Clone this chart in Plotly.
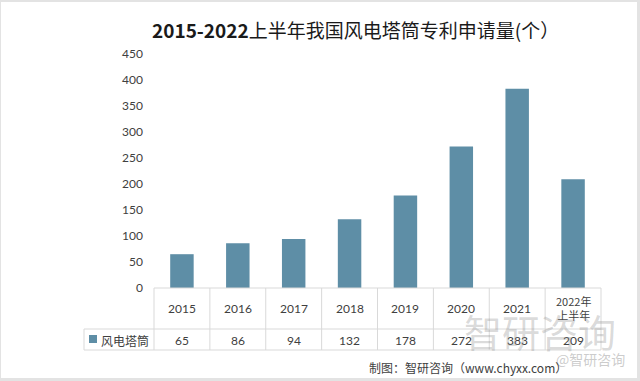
import plotly.graph_objects as go

categories = ["2015", "2016", "2017", "2018", "2019", "2020", "2021", "2022年<br>上半年"]
values = [65, 86, 94, 132, 178, 272, 383, 209]
series_name = "风电塔筒"
y_ticks = [0, 50, 100, 150, 200, 250, 300, 350, 400, 450]
title_num = "2015-2022"
title_cn = "上半年我国风电塔筒专利申请量(个）"
source = "制图：智研咨询（www.chyxx.com）"

W, H = 640, 381
L, R, T, B = 154, 601, 54, 288
BAR = "#5e8ea6"
GRID = "#d9d9d9"
CJK = "Noto Sans CJK SC"
NUM = "Lato, 'Noto Sans CJK SC'"


def px(X):
    return (X - L) / (R - L)


def py(Y):
    return (B - Y) / (B - T)


xs = list(range(len(categories)))
fig = go.Figure(go.Bar(x=xs, y=values, marker=dict(color=BAR, line=dict(width=0)),
                       width=0.42, hoverinfo="skip"))

shapes = []
# frame
shapes.append(dict(type="rect", xref="paper", yref="paper", x0=px(1), x1=px(637), y0=py(378), y1=py(2),
                   fillcolor="white", line=dict(width=0), layer="below"))


def hline(Y, X0, X1):
    shapes.append(dict(type="line", xref="paper", yref="paper", x0=px(X0), x1=px(X1), y0=py(Y), y1=py(Y),
                       line=dict(color=GRID, width=1)))


def vline(X, Y0, Y1):
    shapes.append(dict(type="line", xref="paper", yref="paper", x0=px(X), x1=px(X), y0=py(Y0), y1=py(Y1),
                       line=dict(color=GRID, width=1)))


hline(B, L, R)
hline(329, 84, R)
hline(350, 84, R)
vline(84, 329, 350)
for k in range(len(categories) + 1):
    vline(L + (R - L) / len(categories) * k, B, 350)
# legend key
shapes.append(dict(type="rect", xref="paper", yref="paper", x0=px(89), x1=px(97), y0=py(343), y1=py(335),
                   fillcolor=BAR, line=dict(width=0)))


def note(x, y, text, font, xref="paper", xanchor="center"):
    return dict(x=x, xref=xref, y=y, yref="paper", text=text, showarrow=False,
                xanchor=xanchor, yanchor="middle", align="center", font=font)


ann = []
for i, c in enumerate(categories):
    two = "<br>" in c
    ann.append(note(i, py(308), c, dict(family=CJK if two else NUM, size=11 if two else 12, color="#404040"),
                    xref="x"))
    ann.append(note(i, py(340), str(values[i]), dict(family=NUM, size=12, color="#404040"), xref="x"))
ann.append(note(px(99), py(340), series_name, dict(family=CJK, size=12, color="#404040"), xanchor="left"))
# title
ann.append(note(px(355), py(30), "<b>" + title_num + "</b>" + title_cn,
                dict(family=CJK, size=19, color="#1a1a1a")))
# watermarks
ann.append(note(px(540), py(330), "智研咨询", dict(family=CJK, size=38, color="rgba(140,140,140,0.33)")))
ann.append(note(px(590), py(359), "@智研咨询", dict(family=CJK, size=14, color="rgba(170,170,170,0.6)")))
# source
ann.append(note(px(468), py(367), source, dict(family=CJK, size=12, color="#404040")))

fig.update_layout(
    width=W, height=H,
    margin=dict(l=L, r=W - R, t=T, b=H - B, pad=0),
    paper_bgcolor="#e3e3e3", plot_bgcolor="white",
    showlegend=False,
    xaxis=dict(range=[-0.5, len(categories) - 0.5], showticklabels=False, showgrid=False,
               zeroline=False, showline=False, ticks=""),
    yaxis=dict(range=[0, 450], tickvals=y_ticks, showgrid=False, zeroline=False, showline=False,
               ticks="", ticklabelstandoff=10, tickfont=dict(family=NUM, size=12, color="#404040")),
    shapes=shapes, annotations=ann,
)
fig.write_html("out.html", config={"displayModeBar": False},
               post_script="document.body.style.margin='0';document.body.style.overflow='hidden';")
